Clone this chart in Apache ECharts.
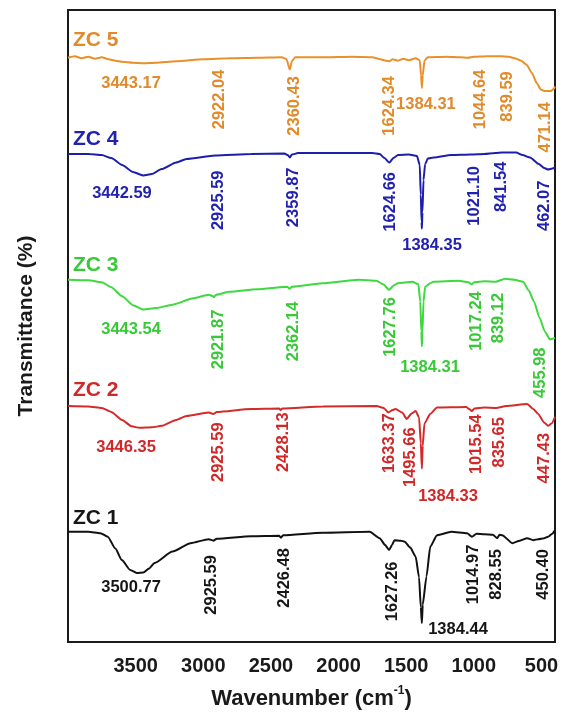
<!DOCTYPE html>
<html>
<head>
<meta charset="utf-8">
<script src="https://cdn.jsdelivr.net/npm/echarts@6/dist/echarts.min.js"></script>
<style>
html,body{margin:0;padding:0;background:#fff;}
#chart{width:562px;height:715px;}
</style>
</head>
<body>
<div id="chart"></div>
<script>
// ---- data (wavenumber cm^-1, offset transmittance a.u.) ----
const sampleNames = ['ZC 1', 'ZC 2', 'ZC 3', 'ZC 4', 'ZC 5'];
const sampleColors = ['#111111', '#d42a2a', '#3fd83f', '#1e1eaa', '#e8902a'];
const labelColors = ['#161616', '#d02828', '#38c838', '#2222b0', '#e08a2a'];
const xTicks = [3500, 3000, 2500, 2000, 1500, 1000, 500];

const zc1 = [[4000,22.2],[3850,22.2],[3760,21.9],[3706,21.2],[3650,18.8],[3602,16.5],[3540,14.5],[3492,13.9],[3443,14.0],[3400,14.8],[3360,15.9],[3227,18.2],[3094,19.9],[2960,20.7],[2925,20.4],[2900,20.8],[2645,21.3],[2440,21.4],[2426,21.0],[2410,21.5],[2116,22.0],[1770,22.2],[1696,20.9],[1655,19.5],[1627,18.5],[1605,19.5],[1587,20.5],[1540,20.4],[1511,20.2],[1470,19.0],[1430,17.2],[1405,13.0],[1392,7.0],[1384,3.8],[1378,7.5],[1350,13.2],[1322,19.2],[1272,21.5],[1166,22.2],[1050,21.9],[1014,21.2],[980,21.8],[923,21.7],[860,21.6],[828,20.9],[810,21.6],[790,21.5],[716,19.9],[660,20.4],[606,20.9],[560,20.5],[525,20.7],[480,20.9],[451,21.2],[420,21.8],[400,22.5]];
const zc2 = [[4000,47.5],[3850,47.4],[3750,47.1],[3680,46.3],[3600,44.7],[3530,43.4],[3470,43.1],[3380,43.2],[3308,43.5],[3200,44.7],[3124,45.5],[2960,46.2],[2925,45.9],[2900,46.3],[2645,46.9],[2440,47.0],[2428,46.7],[2415,47.0],[2116,47.4],[1720,47.5],[1666,47.1],[1633,46.2],[1600,46.7],[1578,46.9],[1530,46.2],[1496,44.9],[1460,46.0],[1430,46.5],[1405,45.2],[1392,40.0],[1384,34.9],[1378,39.5],[1365,44.0],[1322,45.9],[1272,47.2],[1057,47.3],[1035,46.9],[1015,46.5],[995,47.0],[923,47.2],[835,47.1],[760,47.5],[606,47.9],[560,46.9],[525,45.9],[480,44.2],[451,43.5],[425,44.0],[400,45.3]];
const zc3 = [[4000,72.9],[3850,72.8],[3750,72.4],[3680,71.4],[3600,69.6],[3520,67.8],[3443,66.9],[3350,67.2],[3227,67.9],[3072,69.2],[2962,69.9],[2935,69.7],[2922,69.4],[2905,69.9],[2807,70.5],[2600,71.0],[2380,71.5],[2362,71.1],[2345,71.5],[2116,72.2],[1851,72.9],[1720,72.7],[1670,72.0],[1627,70.9],[1590,71.8],[1563,72.2],[1453,72.5],[1410,72.0],[1396,68.5],[1388,62.5],[1384,59.5],[1380,62.5],[1372,68.5],[1360,71.5],[1322,72.2],[1300,72.5],[1114,72.7],[1040,72.4],[1017,72.0],[995,72.4],[923,72.6],[839,72.5],[768,73.1],[700,72.9],[636,72.5],[595,70.8],[555,68.5],[515,65.3],[475,62.5],[437,60.9],[400,61.2]];
const zc4 = [[4000,98.2],[3850,98.2],[3750,98.0],[3680,97.4],[3600,96.0],[3520,94.6],[3443,93.9],[3380,94.2],[3308,95.2],[3200,96.5],[3124,97.2],[2911,97.9],[2645,98.2],[2400,98.3],[2375,98.0],[2360,97.5],[2345,98.1],[2300,98.4],[2000,98.4],[1750,98.4],[1696,98.2],[1660,97.4],[1625,96.5],[1595,97.4],[1560,98.0],[1480,98.1],[1420,97.8],[1400,96.0],[1392,90.0],[1386,84.5],[1384,83.2],[1380,86.5],[1372,93.0],[1360,96.2],[1340,97.3],[1298,97.5],[1166,98.0],[1021,98.1],[923,98.2],[841,98.4],[790,98.5],[687,98.5],[640,98.0],[584,97.5],[520,96.2],[480,95.4],[451,95.1],[420,95.3],[400,95.5]];
const zc5 = [[4000,117.6],[3950,117.9],[3900,117.5],[3850,117.8],[3800,117.4],[3750,117.7],[3700,117.3],[3650,117.0],[3600,116.8],[3520,116.6],[3443,116.5],[3350,116.6],[3200,116.9],[3000,117.3],[2800,117.5],[2600,117.6],[2420,117.7],[2385,117.3],[2360,115.2],[2345,116.9],[2320,117.7],[2100,117.7],[1900,117.8],[1750,117.7],[1690,117.3],[1650,117.0],[1624,116.9],[1600,117.3],[1560,117.0],[1520,117.4],[1480,117.1],[1430,117.5],[1400,117.1],[1390,114.0],[1384,111.5],[1378,114.0],[1365,117.0],[1340,117.7],[1200,117.8],[1100,117.7],[1044,117.6],[1000,117.8],[900,117.9],[800,117.9],[740,117.8],[700,117.5],[650,117.0],[610,116.2],[570,114.5],[535,112.5],[505,111.2],[480,110.9],[430,110.9],[410,111.3],[400,111.8]];
const spectra = [zc1, zc2, zc3, zc4, zc5];

// sample name anchors [wavenumber, value]
const nameAnchors = [[3963,24.9],[3963,50.6],[3963,75.8],[3963,101.2],[3963,121.2]];

// peak annotations: [text, wavenumber, value, vertical]
const peaks1 = [['3500.77',3534,10.9,0],['2925.59',2936,11.5,1],['2426.48',2403,12.9,1],['1627.26',1605,10.2,1],['1384.44',1117,2.6,0],['1014.97',1006,13.6,1],['828.55',836,13.6,1],['450.40',489,13.6,1]];
const peaks2 = [['3446.35',3571,39.2,0],['2925.59',2891,38.2,1],['2428.13',2411,40.2,1],['1633.37',1627,40.0,1],['1495.66',1472,37.2,1],['1384.33',1191,29.2,0],['1015.54',977,39.8,1],['835.65',814,40.2,1],['447.43',481,37.0,1]];
const peaks3 = [['3443.54',3534,62.9,0],['2921.87',2891,60.9,1],['2362.14',2337,62.5,1],['1627.76',1620,63.4,1],['1384.31',1324,55.2,0],['1017.24',984,64.6,1],['839.12',821,65.2,1],['455.98',504,54.2,1]];
const peaks4 = [['3442.59',3601,90.2,0],['2925.59',2891,88.9,1],['2359.87',2337,89.5,1],['1624.66',1620,88.6,1],['1384.35',1309,79.8,0],['1021.10',999,89.8,1],['841.54',799,91.6,1],['462.07',481,87.8,1]];
const peaks5 = [['3443.17',3534,112.5,0],['2922.04',2884,109.2,1],['2360.43',2329,107.9,1],['1624.34',1627,107.9,1],['1384.31',1354,108.2,0],['1044.64',954,109.2,1],['839.59',748,109.8,1],['471.14',467,103.6,1]];
const peakSets = [peaks1, peaks2, peaks3, peaks4, peaks5];

const FONT = '"Liberation Sans", Arial, sans-serif';

const series = [];
spectra.forEach(function (d, i) {
  series.push({
    type: 'line', name: sampleNames[i], data: d, showSymbol: false, symbol: 'none',
    smooth: 0.2, smoothMonotone: 'x', lineStyle: { color: sampleColors[i], width: 2 }, z: 3, silent: true
  });
  series.push({
    type: 'scatter', symbolSize: 0, silent: true, z: 5,
    itemStyle: { opacity: 1 },
    data: peakSets[i].map(function (p) {
      return { value: [p[1], p[2]], label: { formatter: p[0], rotate: p[3] ? 90 : 0 } };
    }).concat([{ value: nameAnchors[i], label: { formatter: sampleNames[i], rotate: 0, align: 'left', fontSize: 21 } }]),
    label: {
      show: true, position: 'inside', align: 'center', verticalAlign: 'middle', opacity: 1,
      color: labelColors[i], fontFamily: FONT, fontWeight: 'bold', fontSize: 16.5
    }
  });
});

const chart = echarts.init(document.getElementById('chart'), null, { renderer: 'canvas' });
chart.setOption({
  animation: false,
  backgroundColor: '#ffffff',
  grid: { left: 68, right: 7, top: 10, bottom: 69, show: true, borderColor: '#1a1a1a', borderWidth: 2, backgroundColor: 'transparent' },
  xAxis: {
    type: 'value', min: 400, max: 4000, inverse: true,
    axisLine: { show: false }, axisTick: { show: false }, splitLine: { show: false },
    axisLabel: { customValues: xTicks, formatter: function (v) { return String(v); }, color: '#1a1a1a', fontFamily: FONT, fontWeight: 'bold', fontSize: 20, margin: 14 },
    name: '{a|Wavenumber (cm}{s|-1}{a|)}', nameLocation: 'middle', nameGap: 43,
    nameTextStyle: {
      rich: {
        a: { fontFamily: FONT, fontWeight: 'bold', fontSize: 22, color: '#1a1a1a', lineHeight: 25, verticalAlign: 'bottom' },
        s: { fontFamily: FONT, fontWeight: 'bold', fontSize: 12, color: '#1a1a1a', lineHeight: 25, verticalAlign: 'top', padding: [0, 0, 10, 0] }
      }
    }
  },
  yAxis: {
    type: 'value', min: 0, max: 127.2,
    axisLine: { show: false }, axisTick: { show: false }, splitLine: { show: false }, axisLabel: { show: false },
    name: 'Transmittance (%)', nameLocation: 'middle', nameGap: 31, nameRotate: 90,
    nameTextStyle: { fontFamily: FONT, fontWeight: 'bold', fontSize: 21, color: '#1a1a1a' }
  },
  series: series
});
</script>
</body>
</html>
